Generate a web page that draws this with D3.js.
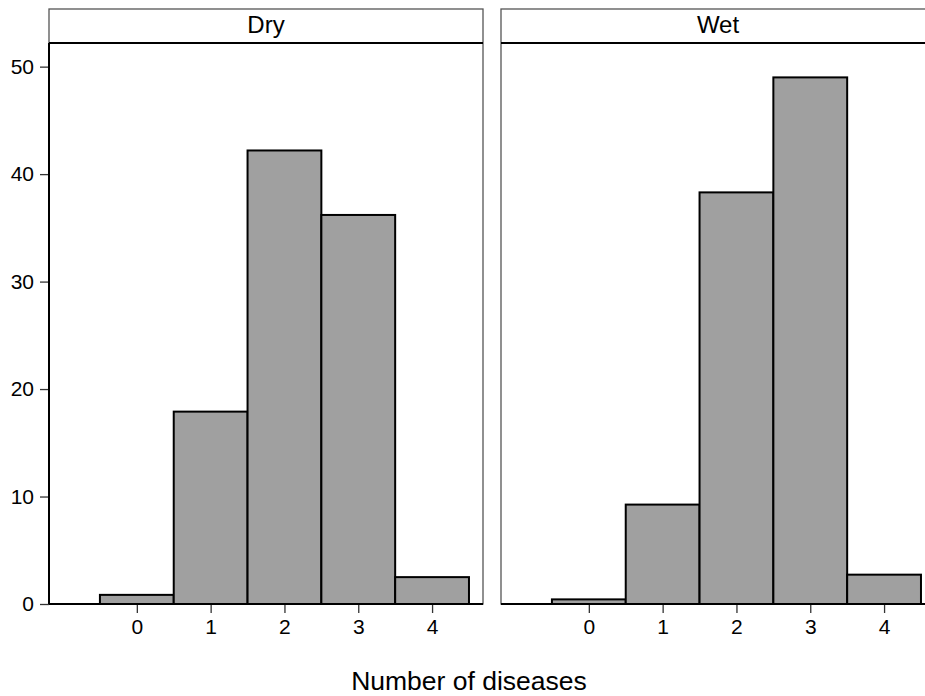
<!DOCTYPE html>
<html>
<head>
<meta charset="utf-8">
<script src="https://cdn.jsdelivr.net/npm/d3@7"></script>
<style>
  body { margin: 0; background: #fff; }
  svg { display: block; font-family: "Liberation Sans", Arial, sans-serif; }
</style>
</head>
<body>
<svg id="chart"></svg>
<script>
// data
const panelNames = ["Dry", "Wet"];
const categories = [0, 1, 2, 3, 4];
const dryValues = [0.85, 17.9, 42.2, 36.2, 2.5];
const wetValues = [0.43, 9.25, 38.3, 49.0, 2.73];
const yTicks = [0, 10, 20, 30, 40, 50];
const xTicks = [0, 1, 2, 3, 4];
const xTitle = "Number of diseases";

function init() {
    const s_width = 925;
    const s_height = 696;

    const panelW = 434;
    const panelLeft = [49, 501];
    const stripTop = 9;
    const plotTop = 43;
    const plotBottom = 604;

    const svg = d3.select("#chart")
        .attr("width", s_width)
        .attr("height", s_height);

    const scaleX = d3.scaleLinear()
        .domain([-1.19, 4.69])
        .range([0, panelW]);
    const scaleY = d3.scaleLinear()
        .domain([0, 52.2])
        .range([plotBottom - plotTop, 0]);

    const seriesByPanel = [dryValues, wetValues];

    panelNames.forEach((name, i) => {
        const g = svg.append("g")
            .attr("transform", `translate(${panelLeft[i]}, 0)`);

        //panel frame and strip
        g.append("rect")
            .attr("x", 0).attr("y", stripTop)
            .attr("width", panelW).attr("height", plotBottom - stripTop)
            .attr("fill", "none")
            .attr("stroke", "#555")
            .attr("stroke-width", 1.3);
        g.append("line")
            .attr("x1", 0).attr("x2", panelW)
            .attr("y1", plotTop).attr("y2", plotTop)
            .attr("stroke", "#000").attr("stroke-width", 2);
        g.append("text")
            .attr("x", panelW / 2).attr("y", 33)
            .attr("text-anchor", "middle")
            .style("font-size", "24px")
            .text(name);

        const plot = g.append("g")
            .attr("transform", `translate(0, ${plotTop})`);

        //bars, each one unit wide centred on the category
        const data = categories.map((c, k) => ({cat: c, value: seriesByPanel[i][k]}));
        plot.selectAll("rect.bar").data(data).enter()
            .append("rect")
            .attr("class", "bar")
            .attr("x", d => scaleX(d.cat - 0.5))
            .attr("width", d => scaleX(d.cat + 0.5) - scaleX(d.cat - 0.5))
            .attr("y", d => scaleY(d.value))
            .attr("height", d => scaleY(0) - scaleY(d.value))
            .attr("fill", "#a0a0a0")
            .attr("stroke", "#000")
            .attr("stroke-width", 2);

        //bottom axis
        const xAxis = d3.axisBottom(scaleX).tickValues(xTicks)
            .tickFormat(d3.format("d")).tickSize(9).tickPadding(6);
        const xg = plot.append("g")
            .attr("transform", `translate(0, ${plotBottom - plotTop})`)
            .call(xAxis);
        xg.select(".domain").remove();
        xg.selectAll(".tick line").attr("stroke", "#333").attr("stroke-width", 1.3);
        xg.selectAll("text").style("font-size", "21px").attr("fill", "#000");
        plot.append("line")
            .attr("x1", 0).attr("x2", panelW)
            .attr("y1", scaleY(0)).attr("y2", scaleY(0))
            .attr("stroke", "#000").attr("stroke-width", 2);

        //left axis only on the first panel
        if (i === 0) {
            const yAxis = d3.axisLeft(scaleY).tickValues(yTicks)
                .tickFormat(d3.format("d")).tickSize(9).tickPadding(6);
            const yg = plot.append("g").call(yAxis);
            yg.select(".domain").remove();
            yg.selectAll(".tick line").attr("stroke", "#333").attr("stroke-width", 1.3);
            yg.selectAll("text").style("font-size", "21px").attr("fill", "#000");
            plot.append("line")
                .attr("x1", 0).attr("x2", 0)
                .attr("y1", 0).attr("y2", scaleY(0))
                .attr("stroke", "#000").attr("stroke-width", 2);
        }
    });

    svg.append("text")
        .attr("x", 469).attr("y", 690)
        .attr("text-anchor", "middle")
        .style("font-size", "26.5px")
        .text(xTitle);
}

window.onload = init;
</script>
</body>
</html>
